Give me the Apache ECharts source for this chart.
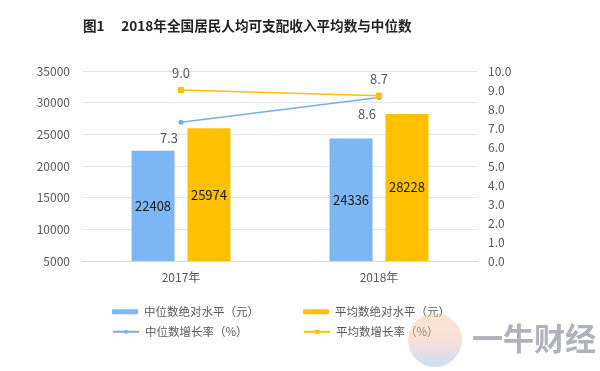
<!DOCTYPE html>
<html>
<head>
<meta charset="utf-8">
<script src="https://cdn.jsdelivr.net/npm/echarts@6/dist/echarts.min.js"></script>
<style>html,body{margin:0;padding:0;background:#fff;}#c{width:600px;height:371px;}</style>
</head>
<body>
<div id="c"></div>
<script>
var categories = ['2017年', '2018年'];
var medianLevel = [22408, 24336];
var meanLevel = [25974, 28228];
var medianGrowth = [7.3, 8.6];
var meanGrowth = [9.0, 8.7];
var seriesNames = ['中位数绝对水平（元）', '平均数绝对水平（元）', '中位数增长率（%）', '平均数增长率（%）'];

var chart = echarts.init(document.getElementById('c'), null, {renderer: 'canvas'});
var txt = '#595959';
var font = '"Noto Sans CJK SC", "Noto Sans", sans-serif';
function leg(name, left, top) {
  return {
    data: [name], left: left, top: top, itemWidth: 26, itemHeight: 5, itemGap: 0,
    padding: 0, textStyle: {color: txt, fontSize: 11.5, fontFamily: font, padding: [0, 0, 0, 1]}
  };
}
chart.setOption({
  animation: false,
  title: {
    text: '图1　 2018年全国居民人均可支配收入平均数与中位数',
    left: 83, top: 19, padding: 0,
    textStyle: {fontSize: 13.6, fontWeight: 'bold', color: '#222', fontFamily: '"Noto Sans CJK SC", serif'}
  },
  legend: [
    leg(seriesNames[0], 112, 306),
    leg(seriesNames[1], 303, 306),
    leg(seriesNames[2], 112, 326),
    leg(seriesNames[3], 303, 326)
  ],
  grid: {left: 82, right: 122, top: 71, bottom: 110, containLabel: false},
  xAxis: {
    type: 'category', data: categories,
    axisLine: {show: true, lineStyle: {color: '#d9d9d9'}},
    axisTick: {show: false},
    axisLabel: {color: txt, fontSize: 12, fontFamily: font, margin: 10}
  },
  yAxis: [{
    type: 'value', min: 5000, max: 35000, interval: 5000,
    axisLine: {show: false}, axisTick: {show: false},
    axisLabel: {color: txt, fontSize: 12, fontFamily: font, margin: 12, formatter: function(v){return String(v);}},
    splitLine: {lineStyle: {color: '#e6e6e6'}}
  }, {
    type: 'value', min: 0, max: 10, interval: 1,
    axisLine: {show: false}, axisTick: {show: false},
    axisLabel: {color: txt, fontSize: 12, fontFamily: font, margin: 10, formatter: function(v){return v.toFixed(1);}},
    splitLine: {show: false}
  }],
  series: [{
    name: seriesNames[0], type: 'bar', data: medianLevel, barWidth: 43, barGap: '30%',
    itemStyle: {color: '#7DB6F5'},
    label: {show: true, position: 'inside', color: '#1a1a1a', fontSize: 13, fontFamily: font}
  }, {
    name: seriesNames[1], type: 'bar', data: meanLevel, barWidth: 43,
    itemStyle: {color: '#FFC000'},
    label: {show: true, position: 'inside', color: '#1a1a1a', fontSize: 13, fontFamily: font}
  }, {
    name: seriesNames[2], type: 'line', yAxisIndex: 1, data: medianGrowth,
    symbol: 'circle', symbolSize: 5,
    lineStyle: {color: '#74AEF2', width: 1.5}, itemStyle: {color: '#74AEF2'},
    label: {show: true, position: 'bottom', offset: [-12, 2], color: txt, fontSize: 13, fontFamily: font,
      formatter: function(p){return p.value.toFixed(1);}}
  }, {
    name: seriesNames[3], type: 'line', yAxisIndex: 1, data: meanGrowth,
    symbol: 'rect', symbolSize: 6,
    lineStyle: {color: '#FFC000', width: 1.5}, itemStyle: {color: '#FFC000'},
    label: {show: true, position: 'top', offset: [0, -2], color: txt, fontSize: 13, fontFamily: font,
      formatter: function(p){return p.value.toFixed(1);}}
  }],
  graphic: [{
    type: 'circle', shape: {cx: 435, cy: 340, r: 27}, z: 100,
    style: {
      opacity: 0.45,
      fill: new echarts.graphic.LinearGradient(0, 0, 0, 1, [
        {offset: 0, color: '#F7C79A'}, {offset: 0.5, color: '#F2B9A8'}, {offset: 1, color: '#8FB4E6'}
      ])
    }
  }, {
    type: 'text', left: 472, top: 323, z: 100,
    style: {text: '一牛财经', fill: '#A8A8B4', opacity: 0.9, font: 'bold 31px "Noto Sans CJK SC", sans-serif'}
  }]
});
</script>
</body>
</html>
